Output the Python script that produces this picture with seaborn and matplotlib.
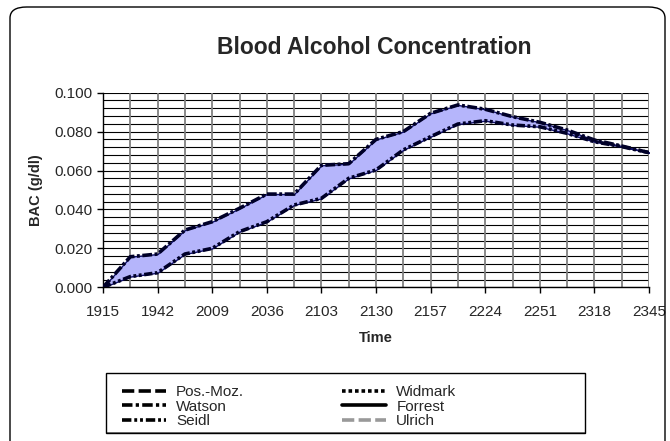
"""Recreate the Blood Alcohol Concentration chart with seaborn."""

import numpy as np
import pandas as pd
import matplotlib
matplotlib.use("Agg")
import matplotlib.pyplot as plt
from matplotlib.lines import Line2D
from matplotlib.patches import FancyBboxPatch, Rectangle
import seaborn as sns

# Data (21 samples, labels every other sample)
tick_labels = ["1915", "1942", "2009", "2036", "2103", "2130",
               "2157", "2224", "2251", "2318", "2345"]
seidl = [0.0, 0.0157, 0.0171, 0.0294, 0.0337, 0.0406, 0.0479, 0.0479,
         0.0627, 0.0635, 0.0760, 0.0800, 0.0894, 0.0937, 0.0915, 0.0877,
         0.0848, 0.0808, 0.0757, 0.0726, 0.0692]
watson = [0.0, 0.0055, 0.0075, 0.0171, 0.0200, 0.0286, 0.0337, 0.0423,
          0.0457, 0.0560, 0.0603, 0.0706, 0.0774, 0.0839, 0.0856, 0.0834,
          0.0825, 0.0791, 0.0748, 0.0723, 0.0692]
legend_names = ["Pos.-Moz.", "Watson", "Seidl", "Widmark", "Forrest", "Ulrich"]

sns.set_theme(style="white")
plt.rcParams["font.family"] = ["Liberation Sans", "DejaVu Sans"]

W, H = 670, 441
step = np.arange(len(seidl))
df = pd.DataFrame({"step": step, "Seidl": seidl, "Watson": watson})

fig = plt.figure(figsize=(W / 100, H / 100), dpi=100)
ax = fig.add_axes([103 / W, 1 - 287.3 / H, 546 / W, 194.6 / H])

# outer rounded frame
frame = FancyBboxPatch((10 / W, -0.03), 655 / W, 1 - 7 / H + 0.03,
                       transform=fig.transFigure,
                       boxstyle="round,pad=0,rounding_size=0.025",
                       fill=False, edgecolor="black", linewidth=1.0)
fig.patches.append(frame)

# band between the two curves
ax.fill_between(df["step"], df["Watson"], df["Seidl"], facecolor="#b5b5fb",
                edgecolor="#10106a", linewidth=1.0, zorder=2)

line_color = "#000028"
sns.lineplot(data=df, x="step", y="Seidl", ax=ax, color=line_color,
             linewidth=2.6, zorder=3)
sns.lineplot(data=df, x="step", y="Watson", ax=ax, color=line_color,
             linewidth=2.6, zorder=3)
ax.lines[0].set_dashes([2.7, 0.7, 0.8, 0.7])
ax.lines[1].set_dashes([2.3, 0.7, 0.8, 0.7, 0.8, 0.7])

# grid: fine horizontal lines, gray vertical lines
for yv in np.arange(0, 0.1001, 0.004):
    ax.axhline(yv, color="black", linewidth=0.8, zorder=1)
for xv in step:
    ax.axvline(xv, color="#808080", linewidth=1.3, zorder=1)

ax.set_xlim(0, len(seidl) - 1)
ax.set_ylim(0, 0.1)
ax.set_xticks(step[::2])
ax.set_xticklabels(tick_labels)
yt = np.arange(0, 0.1001, 0.02)
ax.set_yticks(yt)
ax.set_yticklabels([f"{v:.3f}" for v in yt])
ax.tick_params(axis="both", direction="out", length=4, width=1, color="black",
               labelsize=11, bottom=True, left=True)
ax.tick_params(axis="x", pad=8.5)
ax.tick_params(axis="y", pad=3.5)

for side in ["top", "right"]:
    ax.spines[side].set_visible(False)
for side in ["left", "bottom"]:
    ax.spines[side].set_color("black")
    ax.spines[side].set_linewidth(1.0)

ax.set_xlabel("Time", fontsize=10.5, fontweight="bold")
ax.set_ylabel("BAC (g/dl)", fontsize=10.5, fontweight="bold")
ax.xaxis.set_label_coords(0.5, (287.3 - 331) / 194.6)
ax.yaxis.set_label_coords((43 - 103) / 546, 0.5)
fig.text(374 / W, 1 - 48 / H, "Blood Alcohol Concentration",
         ha="center", va="center", fontsize=16.5, fontweight="bold")

# legend for all six models
styles = {
    "Pos.-Moz.": dict(color="black", dashes=[3.4, 1.2]),
    "Watson": dict(color="black", dashes=[2.9, 0.9, 0.9, 0.9]),
    "Seidl": dict(color="black", dashes=[2.6, 0.8, 0.8, 0.8, 0.8, 0.8]),
    "Widmark": dict(color="black", dashes=[1.0, 0.8]),
    "Forrest": dict(color="black", linestyle="-"),
    "Ulrich": dict(color="#999999", dashes=[3.4, 1.2]),
}
handles = [Line2D([0], [0], linewidth=2.6, **styles[n]) for n in legend_names]
leg = fig.legend(handles, legend_names, ncol=2, loc="upper left",
                 bbox_to_anchor=(122 / W, 1 - 385.5 / H),
                 frameon=False, fontsize=11,
                 handlelength=2.9, handletextpad=0.65, columnspacing=6.4,
                 labelspacing=0.02, borderpad=0, borderaxespad=0)

# legend box, larger than its content as in the source chart
fig.patches.append(Rectangle((107 / W, 1 - 434 / H), 479 / W, 2 / H,
                             transform=fig.transFigure, facecolor="#808080",
                             edgecolor="none"))
fig.patches.append(Rectangle((106 / W, 1 - 432.7 / H), 479 / W, 60 / H,
                             transform=fig.transFigure, facecolor="none",
                             edgecolor="black", linewidth=1.0))

fig.savefig("out.png", dpi=100)
